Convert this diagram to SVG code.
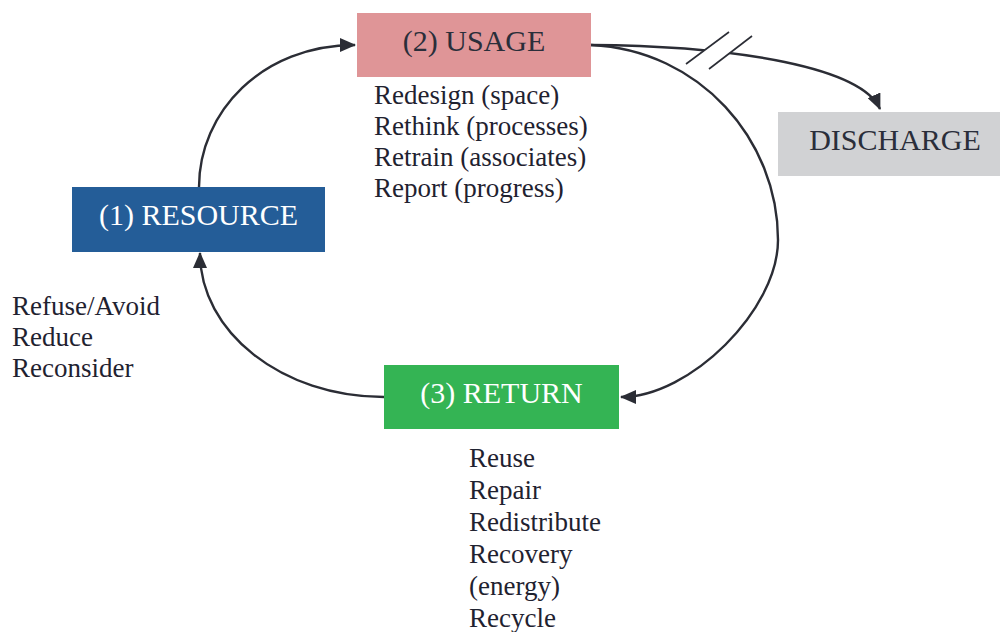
<svg xmlns="http://www.w3.org/2000/svg" width="1000" height="632" viewBox="0 0 1000 632">
  <style>
    .label { font-family: "Liberation Serif", "Times New Roman", serif; font-size: 30px; text-anchor: middle; }
    .light { fill: #ffffff; }
    .dark { fill: #2a2e3a; }
    .list { font-family: "Liberation Serif", "Times New Roman", serif; font-size: 27px; fill: #1f2230; }
    .link { fill: none; stroke: #2b2d35; stroke-width: 2.4; }
  </style>
  <defs>
    <marker id="arrow" viewBox="0 0 16 14" refX="15" refY="7" markerWidth="16" markerHeight="14" markerUnits="userSpaceOnUse" orient="auto">
      <path d="M0,0 L16,7 L0,14 Z" fill="#2b2d35"/>
    </marker>
  </defs>

  <rect width="1000" height="632" fill="#ffffff"/>

  <!-- connectors -->
  <g id="connectors">
    <path class="link" d="M199,187 C199,112 262,45 355,45" marker-end="url(#arrow)"/>
    <path class="link" d="M591,45 C700,50 778,140 778,240 C778,310 690,397 621,397" marker-end="url(#arrow)"/>
    <path class="link" d="M384,397 C282,397 200,332 200,253" marker-end="url(#arrow)"/>
    <path class="link" d="M591,45 C740,46 862,68 880,109" marker-end="url(#arrow)"/>
    <!-- break symbol on the discharge line -->
    <polygon points="713,44 741,44 723,58 694,58" fill="#ffffff"/>
    <line x1="686" y1="64" x2="729" y2="32" stroke="#2b2d35" stroke-width="1.6"/>
    <line x1="709" y1="69" x2="752" y2="36" stroke="#2b2d35" stroke-width="1.6"/>
  </g>

  <g id="usage">
    <rect x="357" y="13" width="234" height="64" fill="#df9597"/>
    <text class="label dark" x="474" y="51">(2) USAGE</text>
    <text class="list" x="374" y="104">Redesign (space)</text>
    <text class="list" x="374" y="135">Rethink (processes)</text>
    <text class="list" x="374" y="166">Retrain (associates)</text>
    <text class="list" x="374" y="197">Report (progress)</text>
  </g>

  <g id="resource">
    <rect x="72" y="187" width="253" height="65" fill="#245d98"/>
    <text class="label light" x="198.5" y="224.5">(1) RESOURCE</text>
    <text class="list" x="12" y="315">Refuse/Avoid</text>
    <text class="list" x="12" y="346">Reduce</text>
    <text class="list" x="12" y="377">Reconsider</text>
  </g>

  <g id="return">
    <rect x="384" y="365" width="235" height="64" fill="#34b454"/>
    <text class="label light" x="501.5" y="403">(3) RETURN</text>
    <text class="list" x="469" y="467">Reuse</text>
    <text class="list" x="469" y="499">Repair</text>
    <text class="list" x="469" y="531">Redistribute</text>
    <text class="list" x="469" y="563">Recovery</text>
    <text class="list" x="469" y="595">(energy)</text>
    <text class="list" x="469" y="627">Recycle</text>
  </g>

  <g id="discharge">
    <rect x="778" y="112" width="222" height="64" fill="#d1d2d4"/>
    <text class="label dark" x="895" y="149.5">DISCHARGE</text>
  </g>
</svg>
